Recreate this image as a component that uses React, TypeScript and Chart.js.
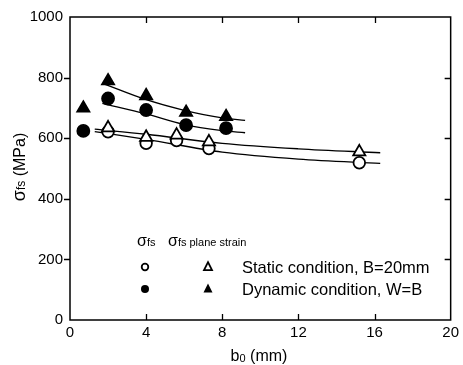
import React, { useEffect, useRef } from "react";
import { Chart, registerables } from "chart.js";
Chart.register(...registerables);

// Measured points
const staticCircleX = [2, 4, 5.6, 7.3, 15.2];
const staticCircleY = [621, 583, 592, 566, 519];
const staticTriX = [2, 4, 5.6, 7.3, 15.2];
const staticTriY = [634, 603, 610, 588, 555];
const dynCircleX = [0.7, 2, 4, 6.1, 8.2];
const dynCircleY = [624, 731, 693, 643, 633];
const dynTriX = [0.7, 2, 4, 6.1, 8.2];
const dynTriY = [699, 789, 740, 685, 671];

// Fitted curves
const fitStaticCircleX = [1.3, 4, 8, 12, 16.3];
const fitStaticCircleY = [622, 596, 554, 531, 517];
const fitStaticTriX = [1.3, 4, 8, 12, 16.3];
const fitStaticTriY = [630, 613, 583, 565, 552];
const fitDynCircleX = [1.7, 4, 6, 8, 9.2];
const fitDynCircleY = [715, 680, 645, 625, 618];
const fitDynTriX = [1.7, 4, 6, 8, 9.2];
const fitDynTriY = [781, 727, 692, 667, 659];

const xTicks = [0, 4, 8, 12, 16, 20];
const yTicks = [0, 200, 400, 600, 800, 1000];

const legendLabels = ["Static condition, B=20mm", "Dynamic condition, W=B"];

const FONT = "'Liberation Sans', Arial, sans-serif";

const zip = (xs: number[], ys: number[]) => xs.map((x, i) => ({ x, y: ys[i] }));

function drawRich(ctx: CanvasRenderingContext2D, parts: { t: string; s: number; dy?: number }[], x: number, y: number, align: "left" | "center") {
  let w = 0;
  parts.forEach((p) => {
    ctx.font = `${p.s}px ${FONT}`;
    w += ctx.measureText(p.t).width;
  });
  let cx = align === "center" ? x - w / 2 : x;
  ctx.textAlign = "left";
  ctx.textBaseline = "alphabetic";
  parts.forEach((p) => {
    ctx.font = `${p.s}px ${FONT}`;
    ctx.fillText(p.t, cx, y + (p.dy || 0));
    cx += ctx.measureText(p.t).width;
  });
}

function tri(ctx: CanvasRenderingContext2D, cx: number, cy: number, s: number, filled: boolean) {
  ctx.beginPath();
  ctx.moveTo(cx, cy - s * 0.6);
  ctx.lineTo(cx + s / 2, cy + s * 0.4);
  ctx.lineTo(cx - s / 2, cy + s * 0.4);
  ctx.closePath();
  if (filled) ctx.fill();
  else ctx.stroke();
}

const decor = {
  id: "decor",
  afterDraw(chart: any) {
    const { ctx, chartArea: a, scales } = chart;
    const x = scales.x;
    const y = scales.y;
    ctx.save();
    ctx.strokeStyle = "#000";
    ctx.fillStyle = "#000";
    ctx.lineWidth = 1.5;
    ctx.strokeRect(a.left, a.top, a.right - a.left, a.bottom - a.top);
    ctx.lineWidth = 1.3;
    ctx.beginPath();
    xTicks.slice(1, -1).forEach((v) => {
      const px = Math.round(x.getPixelForValue(v)) + 0.5;
      ctx.moveTo(px, a.top);
      ctx.lineTo(px, a.top + 6);
      ctx.moveTo(px, a.bottom);
      ctx.lineTo(px, a.bottom - 6);
    });
    yTicks.slice(1, -1).forEach((v) => {
      const py = Math.round(y.getPixelForValue(v)) + 0.5;
      ctx.moveTo(a.left - 6, py);
      ctx.lineTo(a.left, py);
      ctx.moveTo(a.right, py);
      ctx.lineTo(a.right - 6, py);
    });
    ctx.stroke();

    // Y title
    ctx.save();
    ctx.translate(25, 167);
    ctx.rotate(-Math.PI / 2);
    drawRich(ctx, [{ t: "σ", s: 18 }, { t: "fs", s: 12 }, { t: " (MPa)", s: 16 }], 0, 0, "center");
    ctx.restore();

    // X title
    drawRich(ctx, [{ t: "b", s: 16 }, { t: "0", s: 11, dy: 1 }, { t: " (mm)", s: 16 }], 259, 361, "center");

    // Legend headers
    drawRich(ctx, [{ t: "σ", s: 16 }, { t: "fs", s: 11 }], 137, 246, "left");
    drawRich(ctx, [{ t: "σ", s: 16 }, { t: "fs plane strain", s: 11 }], 168, 246, "left");

    // Legend symbols
    ctx.lineWidth = 1.8;
    ctx.beginPath();
    ctx.arc(145, 267, 3.3, 0, Math.PI * 2);
    ctx.stroke();
    tri(ctx, 208, 267, 8, false);
    ctx.beginPath();
    ctx.arc(145, 289, 4, 0, Math.PI * 2);
    ctx.fill();
    tri(ctx, 208, 289, 9, true);

    // Legend labels
    ctx.font = `16.5px ${FONT}`;
    ctx.textAlign = "left";
    ctx.textBaseline = "alphabetic";
    ctx.fillText(legendLabels[0], 242, 273);
    ctx.fillText(legendLabels[1], 242, 295);
    ctx.restore();
  },
};

export default function App() {
  const ref = useRef<HTMLCanvasElement>(null);
  useEffect(() => {
    document.body.style.margin = "0";
    const lineDs = (xs: number[], ys: number[]) => ({
      type: "line" as const,
      data: zip(xs, ys),
      showLine: true,
      borderColor: "#000",
      borderWidth: 1.3,
      pointRadius: 0,
      fill: false,
      cubicInterpolationMode: "monotone" as const,
      order: 5,
    });
    const markDs = (xs: number[], ys: number[], style: string, filled: boolean, r: number) => ({
      type: "scatter" as const,
      data: zip(xs, ys),
      pointStyle: style,
      pointRadius: r,
      pointBackgroundColor: filled ? "#000" : "#fff",
      pointBorderColor: "#000",
      pointBorderWidth: 1.8,
      showLine: false,
      order: 1,
    });
    const chart = new Chart(ref.current!, {
      type: "scatter",
      data: {
        datasets: [
          markDs(staticTriX, staticTriY, "triangle", false, 7),
          markDs(staticCircleX, staticCircleY, "circle", false, 5.8),
          markDs(dynTriX, dynTriY, "triangle", true, 7),
          markDs(dynCircleX, dynCircleY, "circle", true, 6),
          lineDs(fitStaticCircleX, fitStaticCircleY),
          lineDs(fitStaticTriX, fitStaticTriY),
          lineDs(fitDynCircleX, fitDynCircleY),
          lineDs(fitDynTriX, fitDynTriY),
        ] as any,
      },
      options: {
        animation: false,
        responsive: false,
        devicePixelRatio: 1,
        layout: { padding: { top: 17, right: 11, left: 0, bottom: 0 } },
        plugins: { legend: { display: false }, tooltip: { enabled: false } },
        scales: {
          x: {
            type: "linear",
            min: 0,
            max: 20,
            grid: { display: false, drawTicks: false },
            border: { display: false },
            ticks: { stepSize: 4, color: "#000", font: { family: FONT, size: 15 }, padding: 4, maxRotation: 0, callback: (v: any) => String(v) },
            afterFit: (s: any) => { s.height = 45; },
          },
          y: {
            type: "linear",
            min: 0,
            max: 1000,
            grid: { display: false, drawTicks: false },
            border: { display: false },
            ticks: { stepSize: 200, color: "#000", font: { family: FONT, size: 15 }, padding: 7, callback: (v: any) => String(v) },
            afterFit: (s: any) => { s.width = 70; },
          },
        },
      },
      plugins: [decor],
    });
    return () => chart.destroy();
  }, []);
  return (
    <div style={{ width: 463, height: 365, background: "#fff" }}>
      <canvas ref={ref} width={463} height={365} />
    </div>
  );
}
